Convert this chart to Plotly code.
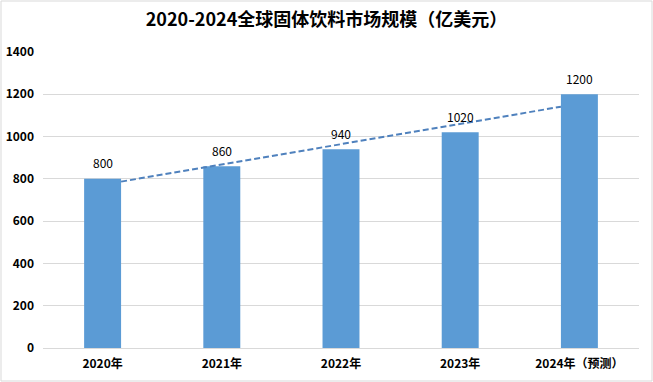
import numpy as np
import plotly.graph_objects as go

categories = ["2020年", "2021年", "2022年", "2023年", "2024年（预测）"]
values = [800, 860, 940, 1020, 1200]
y_ticks = [0, 200, 400, 600, 800, 1000, 1200, 1400]
title = "2020-2024全球固体饮料市场规模（亿美元）"

W, H = 653, 382
ML, MR, MT, MB = 43, 14, 52, 34
bar_w = 0.31

x = np.arange(len(categories))
slope, intercept = np.polyfit(x, values, 1)
tx = np.array([x[0] + bar_w / 2, x[-1] - bar_w / 2])
ty = slope * tx + intercept

font_cjk = "Noto Sans CJK SC, Microsoft YaHei, sans-serif"

fig = go.Figure()
fig.add_trace(go.Bar(
    x=x, y=values, width=bar_w,
    marker=dict(color="#5B9BD5", line=dict(width=0)),
    hoverinfo="skip",
))
fig.add_trace(go.Scatter(
    x=tx, y=ty, mode="lines",
    line=dict(color="#4F81BD", width=2, dash="6px,3px"),
    hoverinfo="skip",
))
for xi, v in zip(x, values):
    fig.add_annotation(x=xi, y=v, text=str(v), showarrow=False,
                       yanchor="middle", yshift=16,
                       font=dict(family=font_cjk, size=12, color="#000000"))

fig.update_layout(
    width=W, height=H,
    margin=dict(l=ML, r=MR, t=MT, b=MB, autoexpand=False),
    paper_bgcolor="#FFFFFF", plot_bgcolor="#FFFFFF",
    showlegend=False,
    title=dict(text="<b>" + title + "</b>", x=0.5, xanchor="center",
               y=1 - 20 / H, yanchor="middle",
               font=dict(family=font_cjk, size=18, color="#000000")),
    xaxis=dict(range=[-0.5, len(categories) - 0.5], tickvals=list(x),
               ticktext=["<b>" + c + "</b>" for c in categories],
               showgrid=False, zeroline=False, showline=True,
               linecolor="#D9D9D9", linewidth=1, ticks="",
               automargin=False, ticklabelstandoff=5,
               tickfont=dict(family=font_cjk, size=12, color="#000000")),
    yaxis=dict(range=[0, 1400], tickvals=y_ticks,
               ticktext=["<b>" + str(t) + "</b>" for t in y_ticks],
               showgrid=True, gridcolor="#D9D9D9", gridwidth=1,
               zeroline=False, showline=False, ticks="",
               automargin=False, ticklabelstandoff=8,
               tickfont=dict(family=font_cjk, size=12, color="#000000")),
)

pw = W - ML - MR
ph = H - MT - MB
fig.add_shape(type="rect", xref="paper", yref="paper",
              x0=-(ML - 1) / pw, x1=1 + (MR - 1) / pw,
              y0=-(MB - 1) / ph, y1=1 + (MT - 1) / ph,
              line=dict(color="#D9D9D9", width=1), layer="below")

fig.write_html("out.html",
               config={"displayModeBar": False},
               post_script="document.body.style.margin='0';document.body.style.overflow='hidden';")
